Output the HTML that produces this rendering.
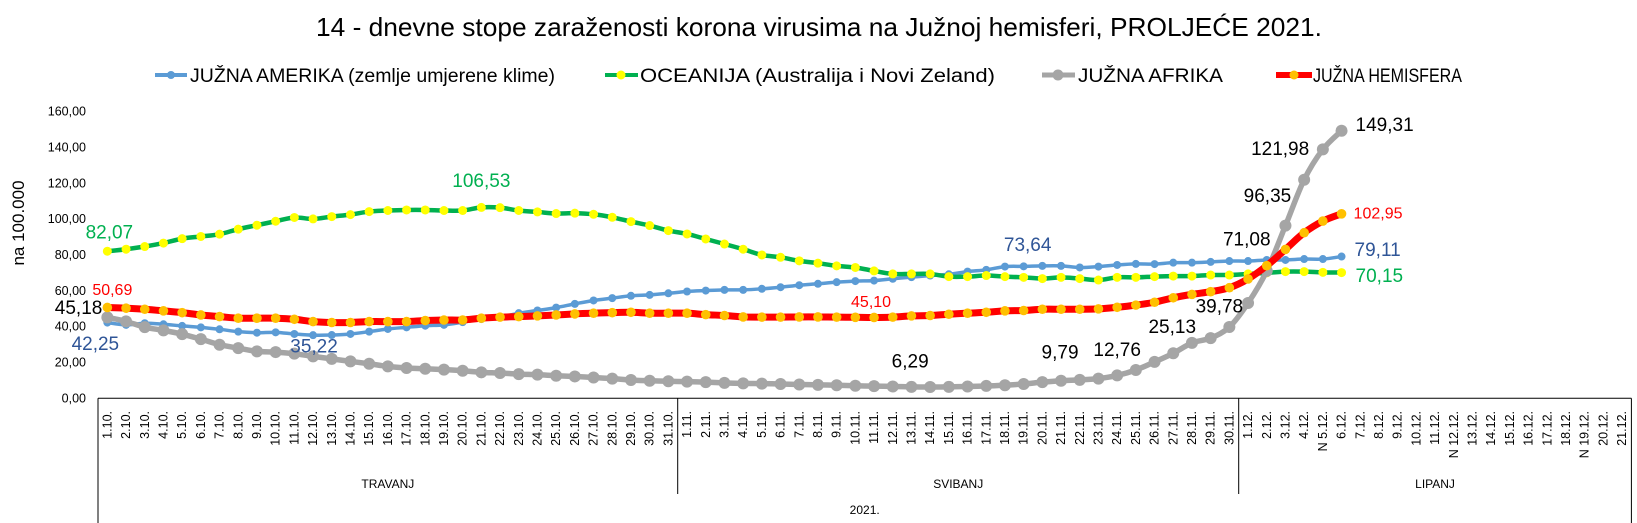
<!DOCTYPE html>
<html><head><meta charset="utf-8">
<style>
html,body{margin:0;padding:0;background:#fff;}
svg{display:block;font-family:"Liberation Sans",sans-serif;}
</style></head>
<body>
<svg id="chart" width="1637" height="523" viewBox="0 0 1637 523" xmlns="http://www.w3.org/2000/svg">
  <text x="316" y="36" font-size="26" textLength="1006" lengthAdjust="spacingAndGlyphs" fill="#000">14 - dnevne stope zaraženosti korona virusima na Južnoj hemisferi, PROLJEĆE 2021.</text>
  <g>
    <g>
      <line x1="155" y1="75" x2="187" y2="75" stroke="#5B9BD5" stroke-width="4"/>
      <circle cx="171" cy="75" r="4" fill="#5B9BD5"/>
      <text x="190" y="82" font-size="19" textLength="365" lengthAdjust="spacingAndGlyphs">JUŽNA AMERIKA (zemlje umjerene klime)</text>
    </g>
    <g>
      <line x1="605" y1="75" x2="638" y2="75" stroke="#00B050" stroke-width="4"/>
      <circle cx="621" cy="75" r="4.5" fill="#FFFF00"/>
      <text x="640" y="82" font-size="19" textLength="355" lengthAdjust="spacingAndGlyphs">OCEANIJA (Australija i Novi Zeland)</text>
    </g>
    <g>
      <line x1="1042" y1="75" x2="1075" y2="75" stroke="#A5A5A5" stroke-width="5"/>
      <circle cx="1058" cy="75" r="5.5" fill="#A5A5A5"/>
      <text x="1078" y="82" font-size="19" textLength="145" lengthAdjust="spacingAndGlyphs">JUŽNA AFRIKA</text>
    </g>
    <g>
      <line x1="1276" y1="75" x2="1312" y2="75" stroke="#FF0000" stroke-width="6"/>
      <circle cx="1294" cy="75" r="4.5" fill="#FFC000"/>
      <text x="1313" y="82" font-size="19" textLength="149" lengthAdjust="spacingAndGlyphs">JUŽNA HEMISFERA</text>
    </g>
  </g>
  <text transform="translate(24,223) rotate(-90)" text-anchor="middle" font-size="17">na 100.000</text>
  <g id="yticks"></g>
  <g id="xaxis"></g>
  <g id="series"></g>
  <g id="labels"></g>
</svg>
<script>
const yTicks = [0,20,40,60,80,100,120,140,160];
const months = ["TRAVANJ","SVIBANJ","LIPANJ"];
const monthSuffix = ["10","11","12"];
const monthDays = [31,30,21];
const markedDays = ["5.12.","12.12.","19.12."];
const yearLabel = "2021.";

const juznaAmerika = [42.25,41.0,41.9,41.3,40.4,39.6,38.5,37.2,36.6,36.8,35.9,35.22,35.3,35.9,37.2,38.7,39.6,40.5,41.0,42.5,44.2,45.3,47.5,49.0,50.6,
 52.7,54.6,55.9,57.2,57.7,58.6,59.6,60.1,60.5,60.5,61.1,62.0,63.1,63.9,64.8,65.4,65.7,66.7,67.6,68.5,69.2,70.7,71.7,73.5,
 73.64,73.9,73.9,73.0,73.5,74.4,75.0,
 74.9,75.7,75.7,76.1,76.6,76.6,77.2,77.2,77.7,77.7,79.11];
const oceanija = [82.07,83.2,84.7,86.6,89.1,90.3,91.6,94.4,96.6,98.8,100.9,100.1,101.4,102.5,104.2,104.8,105.1,105.1,104.8,104.8,106.53,106.4,104.8,104.0,103.1,
 103.3,102.7,101.0,98.6,96.4,93.6,91.7,88.9,86.1,83.2,80.0,78.7,76.7,75.4,73.9,73.0,71.1,69.4,69.4,69.4,67.9,67.9,68.5,67.9,
 67.5,66.8,67.5,66.8,66.0,67.5,67.5,
 67.9,68.2,68.2,68.8,68.8,69.4,70.0,70.7,70.7,70.3,70.15];
const juznaAfrika = [45.18,42.9,39.7,37.9,35.8,33.0,29.9,28.0,26.2,25.8,24.9,23.4,22.0,20.6,19.3,17.8,16.9,16.5,16.0,15.4,14.5,14.1,13.5,13.2,12.6,
 12.2,11.6,11.0,10.2,9.8,9.5,9.3,9.0,8.6,8.3,8.2,8.0,7.7,7.5,7.3,7.0,6.8,6.6,6.4,6.29,6.4,6.6,6.9,7.3,
 8.0,9.0,9.79,10.3,11.0,12.76,15.8,
 20.3,25.13,30.9,33.6,39.78,53.2,71.08,96.35,121.98,138.9,149.31];
const juznaHemisfera = [50.69,50.3,49.7,48.8,47.8,46.5,45.6,44.7,44.7,44.7,44.1,42.8,42.3,42.3,42.8,42.8,42.8,43.4,43.7,43.7,44.7,45.3,45.6,46.0,46.5,
 47.1,47.5,47.8,48.0,47.5,47.5,47.5,46.7,46.2,45.4,45.3,45.3,45.4,45.4,45.3,45.2,45.10,45.3,46.0,46.2,46.9,47.5,48.0,48.8,
 49.0,49.7,49.7,49.7,49.9,50.8,52.0,
 53.6,56.1,58.0,59.5,61.7,66.6,74.0,83.1,92.4,98.9,102.95];

const labeledAmerika = [0,11,49,66];
const labeledOceanija = [0,20,66];
const labeledAfrika = [0,44,51,54,57,60,62,63,64,66];
const labeledHemisfera = [0,41,66];

const NS="http://www.w3.org/2000/svg";
const LEFT=98, BAND=18.7, Y0=398.3, K=1.792, AXIS_Y=398.3;
const categories=[];
for(let m=0;m<3;m++){for(let d=1;d<=monthDays[m];d++){categories.push(d+"."+monthSuffix[m]+".");}}
const RIGHT=LEFT+categories.length*BAND;
function xs(i){return LEFT+BAND*(i+0.5);}
function ys(v){return Y0-v*K;}
function mk(tag,attrs,parent){const e=document.createElementNS(NS,tag);for(const k in attrs)e.setAttribute(k,attrs[k]);parent.appendChild(e);return e;}
function fmt(v){return v.toFixed(2).replace(".",",");}

const yg=document.getElementById("yticks");
yTicks.forEach(v=>{
  const t=mk("text",{x:86,y:ys(v),"text-anchor":"end","dominant-baseline":"central","font-size":"12.5",fill:"#000"},yg);
  
  
  t.textContent=fmt(v);
});

const xg=document.getElementById("xaxis");
const axl=mk("line",{x1:LEFT,y1:AXIS_Y,x2:RIGHT,y2:AXIS_Y,stroke:"#000","stroke-width":1},xg);


const lb=mk("line",{x1:LEFT,y1:AXIS_Y,x2:LEFT,y2:523,stroke:"#000","stroke-width":1},xg);


const rb=mk("line",{x1:RIGHT,y1:AXIS_Y,x2:RIGHT,y2:523,stroke:"#000","stroke-width":1},xg);


categories.forEach((c,i)=>{
  const lab=(markedDays.indexOf(c)>=0?"N ":"")+c;
  const t=mk("text",{transform:"translate("+xs(i)+",411) rotate(-90)","text-anchor":"end","dominant-baseline":"central","font-size":"12.5",fill:"#000"},xg);
  
  
  t.textContent=lab;
});
let start=0;
months.forEach((m,k)=>{
  const end=start+monthDays[k];
  if(k>0){const s=mk("line",{x1:LEFT+start*BAND,y1:AXIS_Y,x2:LEFT+start*BAND,y2:494,stroke:"#000","stroke-width":1},xg);
    
    }
  const t=mk("text",{x:LEFT+(start+end)/2*BAND,y:484,"text-anchor":"middle","dominant-baseline":"central","font-size":"12",fill:"#000"},xg);
  
  
  t.textContent=m;
  start=end;
});
const yl=mk("text",{x:(LEFT+RIGHT)/2,y:510,"text-anchor":"middle","dominant-baseline":"central","font-size":"12",fill:"#000"},xg);


yl.textContent=yearLabel;

function smoothPath(vals){
  const p=vals.map((v,i)=>[xs(i),ys(v)]);
  let d="M"+p[0][0]+","+p[0][1];
  for(let i=0;i<p.length-1;i++){
    const p0=p[i-1]||p[i],p1=p[i],p2=p[i+1],p3=p[i+2]||p2;
    const c1=[p1[0]+(p2[0]-p0[0])/6,p1[1]+(p2[1]-p0[1])/6];
    const c2=[p2[0]-(p3[0]-p1[0])/6,p2[1]-(p3[1]-p1[1])/6];
    d+=" C"+c1[0].toFixed(2)+","+c1[1].toFixed(2)+" "+c2[0].toFixed(2)+","+c2[1].toFixed(2)+" "+p2[0].toFixed(2)+","+p2[1].toFixed(2);
  }
  return d;
}
const sg=document.getElementById("series");
function drawSeries(vals,name,lineColor,lw,markColor,r){
  const g=mk("g",{},sg);
  
  
  const path=mk("path",{d:smoothPath(vals),fill:"none",stroke:lineColor,"stroke-width":lw,"stroke-linejoin":"round","stroke-linecap":"round"},g);
  
  
  vals.forEach((v,i)=>{
    const c=mk("circle",{cx:xs(i),cy:ys(v),r:r,fill:markColor},g);
    
    
  });
}
drawSeries(juznaAmerika,"series-juzna-amerika","#5B9BD5",3.5,"#5B9BD5",4);
drawSeries(oceanija,"series-oceanija","#00B050",4.5,"#FFFF00",4.5);
drawSeries(juznaAfrika,"series-juzna-afrika","#A5A5A5",5.5,"#A5A5A5",6);
drawSeries(juznaHemisfera,"series-juzna-hemisfera","#FF0000",7,"#FFC000",4.8);

const lg=document.getElementById("labels");
const offs={
  amerika:{0:[-12,22,"middle"],11:[1,12,"middle"],49:[4,-21,"middle"],66:[13,-6,"start"]},
  oceanija:{0:[2,-18,"middle"],20:[0,-26,"middle"],66:[14,4,"start"]},
  afrika:{0:[-5,-9,"end"],44:[-20,-25,"middle"],51:[-1,-28,"middle"],54:[0,-25,"middle"],57:[-1,-26,"middle"],60:[-10,-20,"middle"],62:[-20,-31,"middle"],63:[-18,-29,"middle"],64:[-24,-30,"middle"],66:[14,-5,"start"]},
  hemisfera:{0:[5,-17,"middle"],41:[-3,-15,"middle"],66:[12,0,"start"]}
};
function drawLabels(vals,idxs,key,color,size){
  idxs.forEach(i=>{
    const o=offs[key][i]||[0,-20,"middle"];
    const t=mk("text",{x:xs(i)+o[0],y:ys(vals[i])+o[1],"text-anchor":o[2],"dominant-baseline":"central","font-size":size,fill:color},lg);
    
    
    t.textContent=fmt(vals[i]);
  });
}
drawLabels(juznaAmerika,labeledAmerika,"amerika","#2F5597",19);
drawLabels(oceanija,labeledOceanija,"oceanija","#00B050",19);
drawLabels(juznaAfrika,labeledAfrika,"afrika","#000000",19);
drawLabels(juznaHemisfera,labeledHemisfera,"hemisfera","#FF0000",16);
</script>
</body></html>
